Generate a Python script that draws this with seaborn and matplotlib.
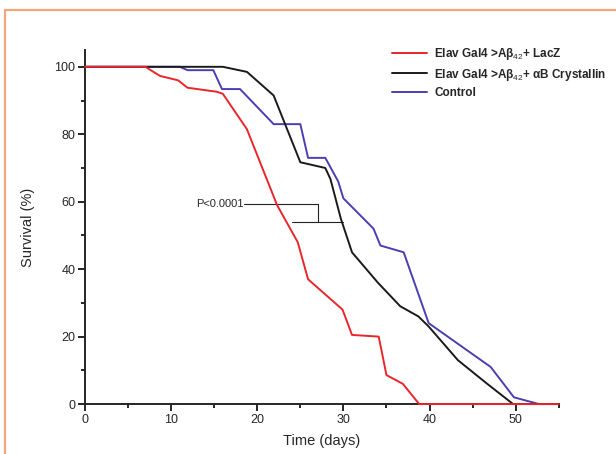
import numpy as np
import pandas as pd
import matplotlib
matplotlib.use("Agg")
import matplotlib.pyplot as plt
from matplotlib.patches import Rectangle
from matplotlib.ticker import MultipleLocator
import seaborn as sns

# survival curves (day, % alive)
lacz_days = [0, 7.0, 8.7, 10.8, 11.9, 15.3, 16.0, 18.8, 22.3, 24.7, 25.9, 29.9, 31.0, 34.1, 35.0, 36.9, 38.8, 55]
lacz_surv = [100, 100, 97.3, 96, 93.8, 92.6, 92, 81.5, 59, 48, 37, 28, 20.5, 20, 8.6, 6, 0, 0]

cryst_days = [0, 16.0, 18.8, 21.9, 25.0, 27.9, 28.5, 29.7, 31.0, 34.0, 36.6, 38.7, 39.9, 43.3, 46.7, 49.7, 55]
cryst_surv = [100, 100, 98.5, 91.5, 71.7, 70, 66.7, 55, 45, 36, 29, 26, 23, 13, 6, 0, 0]

ctrl_days = [0, 11.0, 11.9, 14.9, 15.9, 18.0, 21.9, 25.0, 25.9, 27.9, 29.4, 30.0, 33.5, 34.3, 37.0, 39.9, 47.1, 49.8, 52.7]
ctrl_surv = [100, 100, 99, 99, 93.4, 93.4, 83, 83, 73, 73, 66, 61, 52, 47, 45, 24, 11, 2, 0]

labels = [
    r"Elav Gal4 >Aβ$_{42}$+ LacZ",
    r"Elav Gal4 >Aβ$_{42}$+ αB Crystallin",
    "Control",
]
colors = ["#e8262b", "#1a1a1a", "#4a3fb2"]

# significance bracket
p_text = "P<0.0001"
br_top_y, br_low_y = 59.2, 53.9
br_top_x = (18.5, 27.0)
br_low_x = (24.0, 30.0)

df = pd.concat([
    pd.DataFrame({"day": lacz_days, "surv": lacz_surv, "group": labels[0]}),
    pd.DataFrame({"day": cryst_days, "surv": cryst_surv, "group": labels[1]}),
    pd.DataFrame({"day": ctrl_days, "surv": ctrl_surv, "group": labels[2]}),
])

sns.set_style("ticks")
plt.rcParams["font.family"] = ["Liberation Sans", "DejaVu Sans"]
plt.rcParams["mathtext.fontset"] = "custom"
plt.rcParams["mathtext.rm"] = "Liberation Sans"

fig = plt.figure(figsize=(6.16, 4.54), dpi=100)
ax = fig.add_axes([0.138, 0.110, 0.769, 0.780])

# draw control & crystallin first so red sits on top at zero
order = [labels[2], labels[1], labels[0]]
for g in order:
    sub = df[df.group == g]
    sns.lineplot(data=sub, x="day", y="surv", color=colors[labels.index(g)],
                 lw=1.4, estimator=None, sort=False, ax=ax, label=g)
for ln in ax.lines:
    ln.set_clip_on(False)
    ln.set_zorder(3)

ax.set_xlim(0, 55)
ax.set_ylim(0, 105)
ax.xaxis.set_major_locator(MultipleLocator(10))
ax.xaxis.set_minor_locator(MultipleLocator(5))
ax.yaxis.set_major_locator(MultipleLocator(20))
ax.yaxis.set_minor_locator(MultipleLocator(10))
ax.tick_params(which="major", length=5, width=1.4, labelsize=9, direction="out", pad=2)
ax.tick_params(which="minor", length=3, width=1.4, direction="out")
for s in ["left", "bottom"]:
    ax.spines[s].set_linewidth(1.4)
    ax.spines[s].set_zorder(2)
sns.despine(ax=ax)
ax.set_xlabel("Time (days)", fontsize=10.5, labelpad=6)
ax.set_ylabel("Survival (%)", fontsize=10.5, labelpad=14)

# bracket and p-value
ax.plot(br_top_x, [br_top_y, br_top_y], color="#222222", lw=0.8)
ax.plot([br_top_x[1], br_top_x[1]], [br_top_y, br_low_y], color="#222222", lw=0.8)
ax.plot(br_low_x, [br_low_y, br_low_y], color="#222222", lw=0.8)
ax.text(br_top_x[0] - 0.1, br_top_y, p_text, ha="right", va="center", fontsize=8)

handles, lbls = ax.get_legend_handles_labels()
idx = [lbls.index(l) for l in labels]
leg = ax.legend([handles[i] for i in idx], [lbls[i] for i in idx],
                loc="upper left", bbox_to_anchor=(0.625, 1.04), frameon=False,
                fontsize=8.5, handlelength=3.0, handletextpad=0.6, labelspacing=0.35)
for t in leg.get_texts():
    t.set_fontweight("bold")

# orange frame around the panel
fig.patches.append(Rectangle((5 / 616, -0.1), 1.2, 1 - 10 / 454 + 0.1,
                             transform=fig.transFigure, fill=False,
                             edgecolor="#f5a57c", lw=1.6))

fig.savefig("out.png", dpi=100)
